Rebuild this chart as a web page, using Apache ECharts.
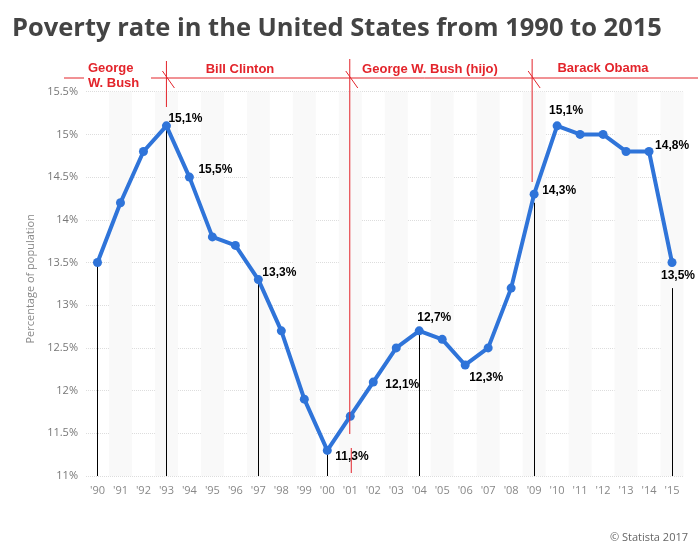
<!DOCTYPE html>
<html>
<head>
<meta charset="utf-8">
<script src="https://cdn.jsdelivr.net/npm/echarts@6/dist/echarts.min.js"></script>
<style>
html,body{margin:0;padding:0;background:#fff;}
#chart{width:698px;height:551px;}
</style>
</head>
<body>
<div id="chart"></div>
<script>
// ---- data ----
var years = ["'90","'91","'92","'93","'94","'95","'96","'97","'98","'99","'00","'01","'02","'03","'04","'05","'06","'07","'08","'09","'10","'11","'12","'13","'14","'15"];
var povertyRate = [13.5,14.2,14.8,15.1,14.5,13.8,13.7,13.3,12.7,11.9,11.3,11.7,12.1,12.5,12.7,12.6,12.3,12.5,13.2,14.3,15.1,15.0,15.0,14.8,14.8,13.5];
// displayed point labels (as printed in the source)
var labelYears = ["'93","'94","'97","'00","'02","'04","'06","'09","'10","'14","'15"];
var labelTexts = ["15,1%","15,5%","13,3%","11,3%","12,1%","12,7%","12,3%","14,3%","15,1%","14,8%","13,5%"];
// drop lines: [year, top value]
var dropYears = ["'90","'93","'97","'00","'04","'09","'15"];
var dropTops = [13.5,15.1,13.3,11.3,12.7,14.2,13.2];
var presidents = ["George\nW. Bush","Bill Clinton","George W. Bush (hijo)","Barack Obama"];
var termStarts = ["'93","'01","'09"];

// ---- label placement (style) ----
var labelOffsets = {
  "'93":[2,-7],"'94":[9,-7],"'97":[4,-7],"'00":[8,6],"'02":[12,3],"'04":[-2,-13],
  "'06":[4,13],"'09":[8,-3],"'10":[-8,-15],"'14":[6,-6],"'15":[-11,13]
};

var RED = '#e3242b';
var chart = echarts.init(document.getElementById('chart'));

var seriesData = povertyRate.map(function(v, i){
  var y = years[i];
  var li = labelYears.indexOf(y);
  var item = {value: v};
  if (li >= 0) {
    item.label = {
      show: true, position: 'inside', align: 'left', verticalAlign: 'middle',
      offset: labelOffsets[y], formatter: labelTexts[li],
      color: '#000', fontFamily: 'Liberation Sans, Arial', fontWeight: 'bold', fontSize: 12
    };
  }
  return item;
});

var dropLines = dropYears.map(function(y, i){
  return [{coord:[y, dropTops[i]]},{coord:[y, 11]}];
});

chart.setOption({
  animation: false,
  title: {
    text: 'Poverty rate in the United States from 1990 to 2015',
    left: 7, top: 11,
    textStyle: {fontFamily: 'Open Sans', fontWeight: 'bold', fontSize: 25.5, color: '#444'}
  },
  grid: {left: 86, right: 14.5, top: 91.7, bottom: 75, containLabel: false},
  xAxis: {
    type: 'category', data: years, boundaryGap: true,
    axisLine: {show: false}, axisTick: {show: false},
    axisLabel: {color: '#888', fontFamily: 'Open Sans', fontSize: 11, margin: 9, interval: 0},
    splitArea: {show: true, interval: 0, areaStyle: {color: ['rgba(255,255,255,0)', '#f9f9f9']}},
    splitLine: {show: false}
  },
  yAxis: {
    type: 'value', min: 11, max: 15.5, interval: 0.5,
    name: 'Percentage of population', nameLocation: 'middle', nameGap: 50,
    nameTextStyle: {color: '#888', fontFamily: 'Open Sans', fontSize: 11, padding: [0, 0, 0, 10]},
    axisLine: {show: false}, axisTick: {show: false},
    axisLabel: {color: '#777', fontFamily: 'Open Sans', fontSize: 11, margin: 8,
      formatter: function(v){ return v + '%'; }},
    splitLine: {show: true, lineStyle: {color: '#ddd', type: 'dotted'}}
  },
  series: [{
    type: 'line', data: seriesData,
    symbol: 'circle', symbolSize: 9,
    lineStyle: {color: '#2f74d9', width: 4},
    itemStyle: {color: '#2f74d9'},
    z: 3,
    markLine: {
      silent: true, symbol: ['none','none'], label: {show: false},
      lineStyle: {color: '#000', width: 1, type: 'solid'},
      emphasis: {disabled: true},
      data: dropLines, z: 2
    }
  }]
});

// ---- presidency annotations ----
function xp(cat){ return chart.convertToPixel({xAxisIndex: 0}, cat); }
var x93 = xp(termStarts[0]), x01 = xp(termStarts[1]) - 0.5, x09 = xp(termStarts[2]) - 2;
var lineY = 78;
var g = [];
function seg(x1,y1,x2,y2){
  g.push({type:'line', shape:{x1:x1,y1:y1,x2:x2,y2:y2}, style:{stroke:RED, lineWidth:1}, z:10, silent:true});
}
seg(64, lineY, 84, lineY);
seg(151, lineY, 698, lineY);
seg(x93, 61, x93, 107);
seg(x01, 59, x01, 434);
seg(x01 + 1.5, 448, x01 + 1.5, 473);
seg(x09, 59, x09, 182);
[x93, x01, x09].forEach(function(x){ seg(x - 4, 71, x + 8, 88); });
function txt(t, x, y, align){
  g.push({type:'text', x:x, y:y, silent:true, z:10,
    style:{text:t, fill:RED, font:'bold 13px "Liberation Sans", Arial', align:align||'center', verticalAlign:'middle', lineHeight:15}});
}
txt(presidents[0], 88, 76, 'left');
txt(presidents[1], 240, 69);
txt(presidents[2], 430, 69);
txt(presidents[3], 603, 68);
g.push({type:'text', right: 10, top: 532, silent:true,
  style:{text:'\u00a9 Statista 2017', fill:'#666', font:'11px "Open Sans"'}});
chart.setOption({graphic: g});
</script>
</body>
</html>
